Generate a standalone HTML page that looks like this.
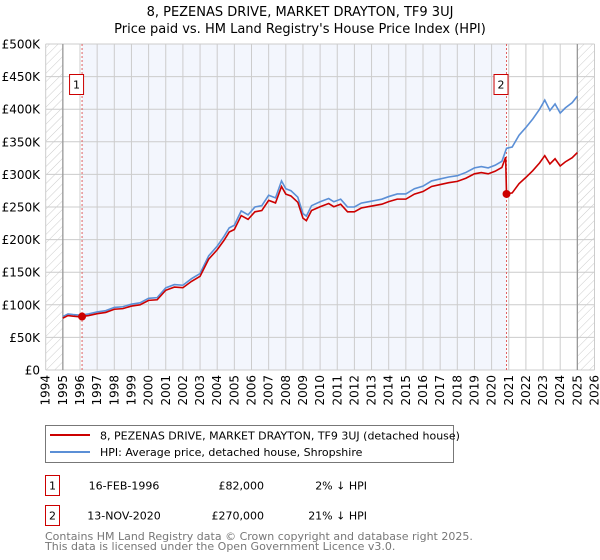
<!DOCTYPE html>
<html><head><meta charset="utf-8"><style>
body{margin:0;background:#fff;font-family:"DejaVu Sans","Liberation Sans",sans-serif;}
svg{display:block}
</style></head><body>
<svg id="chart" width="600" height="560" viewBox="0 0 600 560" xmlns="http://www.w3.org/2000/svg" font-family="DejaVu Sans, Liberation Sans, sans-serif">
<defs>
<pattern id="hatch" patternUnits="userSpaceOnUse" width="6" height="6" patternTransform="rotate(45)">
<line x1="0" y1="0" x2="0" y2="6" stroke="#ccc" stroke-width="1"/>
</pattern>
</defs>
<text x="300" y="16" text-anchor="middle" font-size="13">8, PEZENAS DRIVE, MARKET DRAYTON, TF9 3UJ</text>
<text x="300" y="33" text-anchor="middle" font-size="13">Price paid vs. HM Land Registry's House Price Index (HPI)</text>
<g id="plot"></g>
<g>
<rect x="45.5" y="425.5" width="408" height="37" fill="#fff" stroke="#777"/>
<line x1="50" y1="435" x2="90" y2="435" stroke="#cc0000" stroke-width="2"/>
<text x="100" y="439.5" font-size="11">8, PEZENAS DRIVE, MARKET DRAYTON, TF9 3UJ (detached house)</text>
<line x1="50" y1="452" x2="90" y2="452" stroke="#5b8fd6" stroke-width="2"/>
<text x="100" y="456" font-size="11">HPI: Average price, detached house, Shropshire</text>
</g>
<g font-size="11">
<rect x="45.5" y="475.5" width="14" height="20" fill="#fff" stroke="#cc0000"/>
<text x="52.5" y="489.5" text-anchor="middle">1</text>
<text x="124" y="489.5" text-anchor="middle">16-FEB-1996</text>
<text x="264" y="489.5" text-anchor="end">£82,000</text>
<text x="367" y="489.5" text-anchor="end">2% ↓ HPI</text>
<rect x="45.5" y="505.5" width="14" height="20" fill="#fff" stroke="#cc0000"/>
<text x="52.5" y="519.5" text-anchor="middle">2</text>
<text x="124" y="519.5" text-anchor="middle">13-NOV-2020</text>
<text x="264" y="519.5" text-anchor="end">£270,000</text>
<text x="367" y="519.5" text-anchor="end">21% ↓ HPI</text>
</g>
<g font-size="11" fill="#777">
<text x="45" y="540">Contains HM Land Registry data © Crown copyright and database right 2025.</text>
<text x="45" y="550">This data is licensed under the Open Government Licence v3.0.</text>
</g>
</svg>
<script>
const hpiYears=[1995,1995.3,1995.6,1996,1996.5,1997,1997.5,1998,1998.5,1999,1999.5,2000,2000.5,2001,2001.5,2002,2002.5,2003,2003.5,2004,2004.4,2004.7,2005,2005.4,2005.8,2006.2,2006.6,2007,2007.4,2007.75,2008,2008.3,2008.7,2009,2009.2,2009.5,2010,2010.5,2010.8,2011.2,2011.6,2012,2012.4,2012.8,2013.2,2013.6,2014,2014.5,2015,2015.5,2016,2016.5,2017,2017.5,2018,2018.5,2019,2019.4,2019.8,2020.2,2020.6,2020.87,2021.2,2021.6,2022,2022.4,2022.8,2023.1,2023.4,2023.7,2024,2024.3,2024.7,2025];
const hpiValues=[82,86,85,84,86,89,91,96,97,101,103,110,111,126,131,130,140,148,175,190,205,218,222,244,238,250,252,268,264,290,278,275,265,240,236,252,258,263,258,262,250,250,256,258,260,262,266,270,270,278,282,290,293,296,298,303,310,312,310,314,320,340,342,360,372,385,400,414,398,408,394,402,410,420];
const saleYears=[1996.12,2020.87];
const salePrices=[82,270];
const yTicks=[0,50,100,150,200,250,300,350,400,450,500];
const yTickLabels=["£0","£50K","£100K","£150K","£200K","£250K","£300K","£350K","£400K","£450K","£500K"];
const xTickYears=[1994,1995,1996,1997,1998,1999,2000,2001,2002,2003,2004,2005,2006,2007,2008,2009,2010,2011,2012,2013,2014,2015,2016,2017,2018,2019,2020,2021,2022,2023,2024,2025,2026];

const X0=45.7,X1=594.5,Y0=370,Y1=44;
const xs=y=>X0+(y-1994)/(2026-1994)*(X1-X0);
const ys=v=>Y0-v/500*(Y0-Y1);
const NS="http://www.w3.org/2000/svg";
const plot=document.getElementById('plot');
function mk(tag,attrs,parent){const e=document.createElementNS(NS,tag);for(const k in attrs)e.setAttribute(k,attrs[k]);(parent||plot).appendChild(e);return e;}

// background & shading
const bg=mk('rect',{x:X0,y:Y1,width:X1-X0,height:Y0-Y1,fill:'#fff'});


const sh=mk('rect',{x:xs(saleYears[0]),y:Y1,width:xs(saleYears[1])-xs(saleYears[0]),height:Y0-Y1,fill:'#f3f6fd'});


const h1=mk('rect',{x:X0,y:Y1,width:xs(1995)-X0,height:Y0-Y1,fill:'url(#hatch)'});


const h2=mk('rect',{x:xs(2025),y:Y1,width:X1-xs(2025),height:Y0-Y1,fill:'url(#hatch)'});



// grid
xTickYears.forEach(yr=>{
 const l=mk('line',{x1:xs(yr),x2:xs(yr),y1:Y1,y2:Y0,stroke:'#ccc','stroke-width':1});
 
 
 const t=mk('text',{x:0,y:0,'font-size':12,'text-anchor':'end',transform:`translate(${xs(yr)+4},375) rotate(-90)`});
 t.textContent=yr;
 
 
});
yTicks.forEach((v,i)=>{
 const l=mk('line',{x1:X0,x2:X1,y1:ys(v),y2:ys(v),stroke:'#ccc','stroke-width':1});
 
 
 const t=mk('text',{x:40,y:ys(v)+4.5,'font-size':12,'text-anchor':'end'});
 t.textContent=yTickLabels[i];
 
 
});
[1995,2025].forEach(yr=>{
 const l=mk('line',{x1:xs(yr),x2:xs(yr),y1:Y1,y2:Y0,stroke:'#999','stroke-width':1.3});
 
 
});

// sale marker lines & labels
saleYears.forEach((yr,i)=>{
 const l=mk('line',{x1:xs(yr),x2:xs(yr),y1:Y1,y2:Y0,stroke:'#e06060','stroke-width':1,'stroke-dasharray':'2,2'});
 
 
 const r=mk('rect',{x:xs(yr)-12.5,y:74.5,width:14,height:20,fill:'#fff',stroke:'#cc0000'});
 
 
 const t=mk('text',{x:xs(yr)-5.5,y:88.5,'font-size':11,'text-anchor':'middle'});
 t.textContent=String(i+1);
 
 
});

// HPI interpolation for red series
function hpiAt(yr){for(let i=0;i<hpiYears.length-1;i++){if(yr<=hpiYears[i+1]){const f=(yr-hpiYears[i])/(hpiYears[i+1]-hpiYears[i]);return hpiValues[i]+f*(hpiValues[i+1]-hpiValues[i]);}}return hpiValues[hpiValues.length-1];}
const hpiPts=hpiYears.map((y,i)=>[xs(y),ys(hpiValues[i])]);
const blue=mk('polyline',{points:hpiPts.map(p=>p.join(',')).join(' '),fill:'none',stroke:'#5b8fd6','stroke-width':1.6});



const r1=salePrices[0]/hpiAt(saleYears[0]), r2=salePrices[1]/hpiAt(saleYears[1]);
let redPts=[];
hpiYears.forEach((y,i)=>{
 if(y<saleYears[1]) redPts.push([xs(y),ys(hpiValues[i]*r1)]);
});
redPts.push([xs(saleYears[1]-0.05),ys(hpiAt(saleYears[1]-0.05)*r1)]);
redPts.push([xs(saleYears[1]),ys(salePrices[1])]);
hpiYears.forEach((y,i)=>{ if(y>saleYears[1]) redPts.push([xs(y),ys(hpiValues[i]*r2)]); });
const red=mk('polyline',{points:redPts.map(p=>p.join(',')).join(' '),fill:'none',stroke:'#cc0000','stroke-width':1.6});



saleYears.forEach((yr,i)=>{
 const c=mk('circle',{cx:xs(yr),cy:ys(salePrices[i]),r:4,fill:'#cc0000'});
 
 
});
</script>
</body></html>
